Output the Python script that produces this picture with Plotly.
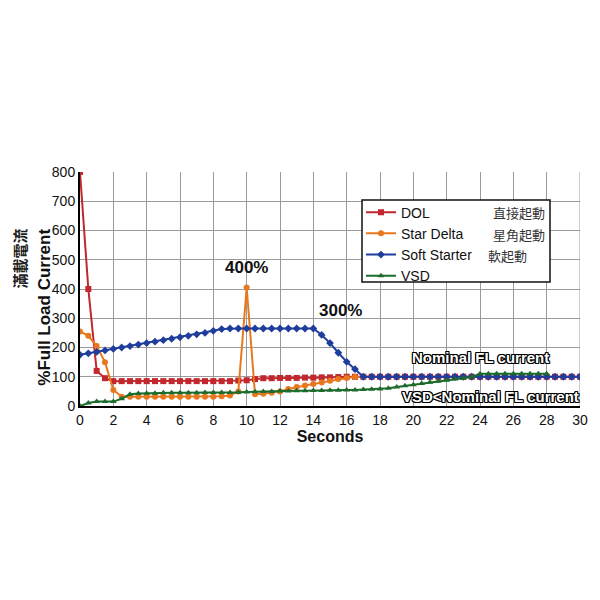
import plotly.graph_objects as go

# ---- data ----
t_full = [0, 0.5, 1, 1.5, 2, 2.5, 3, 3.5, 4, 4.5, 5, 5.5, 6, 6.5, 7, 7.5, 8, 8.5, 9, 9.5,
          10, 10.5, 11, 11.5, 12, 12.5, 13, 13.5, 14, 14.5, 15, 15.5, 16, 16.5, 17, 17.5, 18, 18.5, 19, 19.5,
          20, 20.5, 21, 21.5, 22, 22.5, 23, 23.5, 24, 24.5, 25, 25.5, 26, 26.5, 27, 27.5, 28, 28.5, 29, 29.5, 30]

dol = [800, 400, 120, 95, 85, 85, 85, 85, 85, 85, 85, 85, 85, 85, 85, 85, 85, 85, 85, 87,
       88, 92, 95, 95, 96, 96, 96, 97, 97, 98, 98, 99, 100, 100, 100, 100, 100, 100, 100, 100,
       100, 100, 100, 100, 100, 100, 100, 100, 100, 100, 100, 100, 100, 100, 100, 100, 100, 100, 100, 100, 100]

t_star = [0, 0.5, 1, 1.5, 2, 2.5, 3, 3.5, 4, 4.5, 5, 5.5, 6, 6.5, 7, 7.5, 8, 8.5, 9, 9.5,
          10, 10.5, 11, 11.5, 12, 12.5, 13, 13.5, 14, 14.5, 15, 15.5, 16, 16.5, 17]
star_delta = [255, 240, 205, 150, 55, 32, 32, 32, 32, 32, 32, 32, 32, 32, 32, 32, 32, 33, 36, 50,
              405, 40, 42, 45, 50, 58, 65, 70, 75, 80, 86, 92, 96, 99, 100]

soft_starter = [175, 180, 185, 190, 195, 200, 205, 210, 215, 220, 225, 230, 235, 240, 245, 250, 257, 263, 265, 265,
                265, 265, 265, 265, 265, 265, 265, 265, 265, 243, 215, 182, 151, 126, 100, 100, 100, 100, 100, 100,
                100, 100, 100, 100, 100, 100, 100, 100, 100, 100, 100, 100, 100, 100, 100, 100, 100, 100, 100, 100, 100]

t_vsd = [0, 0.5, 1, 1.5, 2, 2.5, 3, 3.5, 4, 4.5, 5, 5.5, 6, 6.5, 7, 7.5, 8, 8.5, 9, 9.5,
         10, 10.5, 11, 11.5, 12, 12.5, 13, 13.5, 14, 14.5, 15, 15.5, 16, 16.5, 17, 17.5, 18, 18.5, 19, 19.5,
         20, 20.5, 21, 21.5, 22, 22.5, 23, 23.5, 24, 24.5, 25, 25.5, 26, 26.5, 27, 27.5, 28]
vsd = [0, 10, 15, 15, 15, 25, 40, 43, 44, 44, 45, 45, 45, 45, 45, 46, 46, 46, 46, 47,
       48, 49, 50, 50, 51, 51, 52, 52, 53, 53, 54, 54, 55, 55, 56, 57, 58, 61, 65, 69,
       73, 77, 81, 85, 88, 92, 95, 99, 110, 110, 110, 110, 110, 110, 110, 110, 110]

x_ticks = [0, 2, 4, 6, 8, 10, 12, 14, 16, 18, 20, 22, 24, 26, 28, 30]
y_ticks = [0, 100, 200, 300, 400, 500, 600, 700, 800]

RED = "#c1272d"
ORANGE = "#e8781e"
BLUE = "#1f3d9c"
GREEN = "#1d6b2c"

fig = go.Figure()
fig.add_trace(go.Scatter(x=t_full, y=dol, name="DOL", mode="lines+markers",
                         line=dict(color=RED, width=2), marker=dict(symbol="square", size=6, color=RED)))
fig.add_trace(go.Scatter(x=t_star, y=star_delta, name="Star Delta", mode="lines+markers",
                         line=dict(color=ORANGE, width=2), marker=dict(symbol="circle", size=6, color=ORANGE)))
fig.add_trace(go.Scatter(x=t_full, y=soft_starter, name="Soft Starter", mode="lines+markers",
                         line=dict(color=BLUE, width=2), marker=dict(symbol="diamond", size=6, color=BLUE)))
fig.add_trace(go.Scatter(x=t_vsd, y=vsd, name="VSD", mode="lines+markers",
                         line=dict(color=GREEN, width=2), marker=dict(symbol="triangle-up", size=6, color=GREEN)))

FONT = "Liberation Sans, Arial, sans-serif"
CJK = "Noto Sans CJK TC, sans-serif"
outline = ("1px 1px 0 #000, -1px -1px 0 #000, 1px -1px 0 #000, -1px 1px 0 #000, "
           "0 1px 0 #000, 0 -1px 0 #000, 1px 0 0 #000, -1px 0 0 #000")

annotations = [
    dict(x=10, y=472, xref="x", yref="y", text="<b>400%</b>", showarrow=False,
         font=dict(size=17, color="#111", family=FONT)),
    dict(x=15.6, y=328, xref="x", yref="y", text="<b>300%</b>", showarrow=False,
         font=dict(size=17, color="#111", family=FONT)),
    dict(x=24.0, y=167, xref="x", yref="y", text="<b>Nominal FL current</b>", showarrow=False,
         font=dict(size=15, color="white", family=FONT, shadow=outline)),
    dict(x=24.6, y=31, xref="x", yref="y", text="<b>VSD&lt;Nominal FL current</b>", showarrow=False,
         font=dict(size=15, color="white", family=FONT, shadow=outline)),
    dict(x=-0.07, y=0.42, xref="paper", yref="paper", text="<b>%Full Load Current</b>", showarrow=False,
         textangle=-90, xanchor="center", yanchor="middle", font=dict(size=17, color="#111", family=FONT)),
    dict(x=-0.12, y=0.63, xref="paper", yref="paper", text="<b>滿載電流</b>", showarrow=False,
         textangle=-90, xanchor="center", yanchor="middle", font=dict(size=15, color="#222", family=CJK)),
    dict(x=0.878, y=0.825, xref="paper", yref="paper", text="直接起動", showarrow=False,
         xanchor="center", yanchor="middle", font=dict(size=13, color="#333", family=CJK)),
    dict(x=0.878, y=0.735, xref="paper", yref="paper", text="星角起動", showarrow=False,
         xanchor="center", yanchor="middle", font=dict(size=13, color="#333", family=CJK)),
    dict(x=0.812, y=0.645, xref="paper", yref="paper", text="軟起動", showarrow=False,
         xanchor="left", yanchor="middle", font=dict(size=13, color="#333", family=CJK)),
]

fig.update_layout(
    width=600, height=600,
    margin=dict(l=72, r=28, t=164, b=202),
    paper_bgcolor="white", plot_bgcolor="white",
    font=dict(family=FONT, color="#111"),
    showlegend=True,
    legend=dict(x=0.562, y=0.895, xanchor="left", yanchor="top",
                bgcolor="rgba(0,0,0,0)", borderwidth=0,
                font=dict(size=14, color="#111", family=FONT),
                tracegroupgap=0, itemwidth=30),
    annotations=annotations,
    shapes=[dict(type="rect", xref="paper", yref="paper", x0=0.564, x1=0.94, y0=0.53, y1=0.88,
                 line=dict(color="#111", width=1.5), fillcolor="white", layer="above")],
    xaxis=dict(range=[0, 30], tickvals=x_ticks, ticktext=[str(v) for v in x_ticks],
               showgrid=True, gridcolor="#9a9a9a", gridwidth=1,
               showline=True, linecolor="black", linewidth=2, zeroline=False,
               ticks="", tickfont=dict(size=14, color="#111"),
               title=dict(text="<b>Seconds</b>", font=dict(size=16, color="#111"), standoff=0),
               mirror=False),
    yaxis=dict(range=[0, 800], tickvals=y_ticks, ticktext=[str(v) for v in y_ticks],
               showgrid=True, gridcolor="#9a9a9a", gridwidth=1,
               showline=True, linecolor="black", linewidth=2, zeroline=False,
               ticks="", tickfont=dict(size=14, color="#111")),
)
# right edge grid line
fig.add_shape(type="line", xref="x", yref="paper", x0=30, x1=30, y0=0, y1=1,
              line=dict(color="#9a9a9a", width=1), layer="below")

fig.write_html("out.html")
